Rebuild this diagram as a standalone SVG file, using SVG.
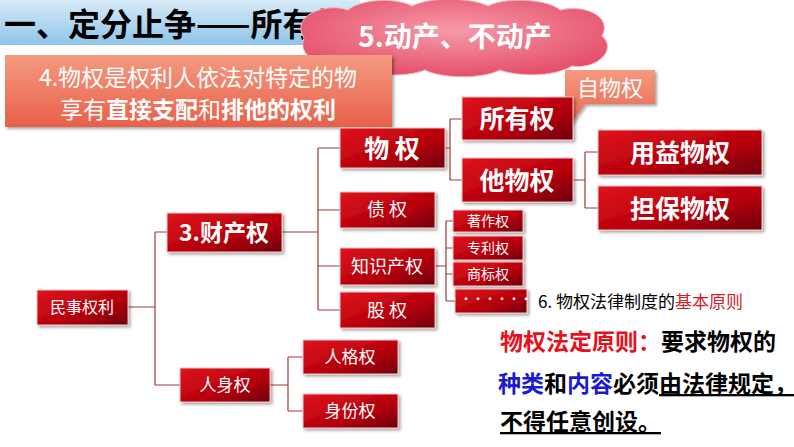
<svg xmlns="http://www.w3.org/2000/svg" width="794" height="447" viewBox="0 0 794 447">
<defs>
<linearGradient id="rg" x1="0" y1="0" x2="1" y2="1"><stop offset="0" stop-color="#e0141e"/><stop offset="0.6" stop-color="#b5000c"/><stop offset="1" stop-color="#6e0008"/></linearGradient>
<linearGradient id="tb" x1="0" y1="0" x2="0" y2="1"><stop offset="0" stop-color="#d7ebf8"/><stop offset="1" stop-color="#8ec4e8"/></linearGradient>
<linearGradient id="og" x1="0" y1="0" x2="0" y2="1"><stop offset="0" stop-color="#f59a80"/><stop offset="1" stop-color="#e8604a"/></linearGradient>
<radialGradient id="cg" cx="0.5" cy="0.4" r="0.6"><stop offset="0" stop-color="#f79aa8"/><stop offset="1" stop-color="#e4506a"/></radialGradient>
<filter id="sh" x="-10%" y="-10%" width="130%" height="140%"><feDropShadow dx="2" dy="2" stdDeviation="1.5" flood-color="#000" flood-opacity="0.35"/></filter>
</defs>
<style>
.n{fill:url(#rg);stroke:#f3c6c6;stroke-width:1;filter:url(#sh)}
.t{fill:#fff;font-family:"Noto Sans CJK SC","Liberation Sans",sans-serif;text-anchor:middle}
.b{font-weight:bold}
.c{fill:none;stroke:#9b3b3b;stroke-width:1.2}
.k{font-family:"Noto Sans CJK SC",sans-serif;font-weight:bold;font-size:23px}
</style>
<rect x="0" y="0" width="360" height="45" fill="url(#tb)"/>
<text x="4" y="36" font-family="Noto Sans CJK SC,sans-serif" font-weight="bold" font-size="32" fill="#000">一、定分止争——所有权</text>
<g id="cloud">
<path d="M304,38 C290,16 325,2 348,10 C362,-2 398,-2 412,6 C432,-4 472,-2 488,6 C508,-4 550,0 560,10 C588,4 612,18 602,36 C618,50 596,70 572,66 C552,78 515,76 500,70 C480,80 440,78 425,70 C405,78 368,76 356,66 C328,72 296,58 304,38 Z" fill="url(#cg)" stroke="#f4b6c0"/>
<circle cx="346" cy="72" r="4" fill="#e4506a"/><circle cx="338" cy="76" r="3" fill="#e4506a"/><circle cx="332" cy="79" r="2" fill="#e4506a"/>
<text class="t b" x="455" y="47" font-size="28">5.动产、不动产</text>
</g>
<g id="def">
<rect x="5" y="55" width="387" height="72" fill="url(#og)" filter="url(#sh)"/>
<text class="t" x="198" y="86" font-size="23">4.物权是权利人依法对特定的物</text>
<text class="t" x="198" y="118" font-size="23">享有<tspan font-weight="bold">直接支配</tspan>和<tspan font-weight="bold">排他的权利</tspan></text>
</g>
<g id="connectors">
<path class="c" d="M450,119 V180 M450,119 H462 M450,180 H462 M445,148 H450"/>
<path class="c" d="M585,152 V208 M585,152 H598 M585,208 H598 M573,180 H585"/>
<path class="c" d="M318,148 V310 M318,148 H340 M318,210 H340 M318,266 H340 M318,310 H340 M282,232 H318"/>
<path class="c" d="M446,221 V301 M446,221 H453 M446,248 H453 M446,274 H453 M446,301 H455 M435,266 H446"/>
<path class="c" d="M155,232 V385 M155,232 H167 M155,385 H180 M128,307 H155"/>
<path class="c" d="M288,357 V411 M288,357 H303 M288,411 H303 M270,385 H288"/>
</g>
<g id="ziwu"><path d="M565,70 H655 V104 H585 L568,128 L572,104 H565 Z" fill="url(#og)" filter="url(#sh)"/><text class="t" x="610" y="96" font-size="22">自物权</text></g>
<g id="wuquan"><rect class="n" x="340" y="128" width="105" height="40"/><text class="t b" x="392" y="158" font-size="25">物 权</text></g>
<g id="suoyou"><rect class="n" x="462" y="97" width="111" height="43"/><text class="t b" x="517" y="128" font-size="25">所有权</text></g>
<g id="tawu"><rect class="n" x="462" y="158" width="111" height="44"/><text class="t b" x="517" y="190" font-size="25">他物权</text></g>
<g id="yongyi"><rect class="n" x="598" y="130" width="164" height="45"/><text class="t b" x="680" y="162" font-size="25">用益物权</text></g>
<g id="danbao"><rect class="n" x="598" y="186" width="164" height="44"/><text class="t b" x="680" y="218" font-size="25">担保物权</text></g>
<g id="caichan"><rect class="n" x="167" y="213" width="115" height="39"/><text class="t b" x="224" y="241" font-size="23">3.财产权</text></g>
<g id="zhai"><rect class="n" x="340" y="192" width="95" height="36"/><text class="t" x="387" y="216" font-size="18">债 权</text></g>
<g id="zhishi"><rect class="n" x="340" y="248" width="95" height="37"/><text class="t" x="387" y="273" font-size="18">知识产权</text></g>
<g id="gu"><rect class="n" x="340" y="292" width="95" height="36"/><text class="t" x="387" y="317" font-size="18">股 权</text></g>
<g id="zhuzuo"><rect class="n" x="453" y="210" width="70" height="22"/><text class="t" x="488" y="226" font-size="14">著作权</text></g>
<g id="zhuanli"><rect class="n" x="453" y="236" width="70" height="24"/><text class="t" x="488" y="253" font-size="14">专利权</text></g>
<g id="shangbiao"><rect class="n" x="453" y="262" width="70" height="24"/><text class="t" x="488" y="279" font-size="14">商标权</text></g>
<g id="more"><rect class="n" x="455" y="289" width="72" height="24"/><text class="t" x="490" y="304" font-size="12">·······</text></g>
<g id="minshi"><rect class="n" x="37" y="290" width="91" height="35"/><text class="t" x="82" y="313" font-size="16">民事权利</text></g>
<g id="renshen"><rect class="n" x="180" y="368" width="90" height="34"/><text class="t" x="225" y="391" font-size="17">人身权</text></g>
<g id="renge"><rect class="n" x="303" y="340" width="95" height="34"/><text class="t" x="350" y="363" font-size="17">人格权</text></g>
<g id="shenfen"><rect class="n" x="303" y="394" width="95" height="34"/><text class="t" x="350" y="417" font-size="17">身份权</text></g>
<g id="principle">
<text x="538" y="308" font-family="Noto Sans CJK SC,serif" font-size="17" fill="#000">6. 物权法律制度的<tspan fill="#d0202a">基本原则</tspan></text>
<text class="k" x="500" y="350" fill="#000"><tspan fill="#e8101c">物权法定原则：</tspan>要求物权的</text>
<text class="k" x="498" y="392" fill="#000" font-size="22.5"><tspan fill="#1a1ad0">种类</tspan>和<tspan fill="#1a1ad0">内容</tspan>必须<tspan text-decoration="underline">由法律规定，</tspan></text>
<text class="k" x="500" y="430" fill="#000" text-decoration="underline">不得任意创设。</text>
</g>
</svg>
